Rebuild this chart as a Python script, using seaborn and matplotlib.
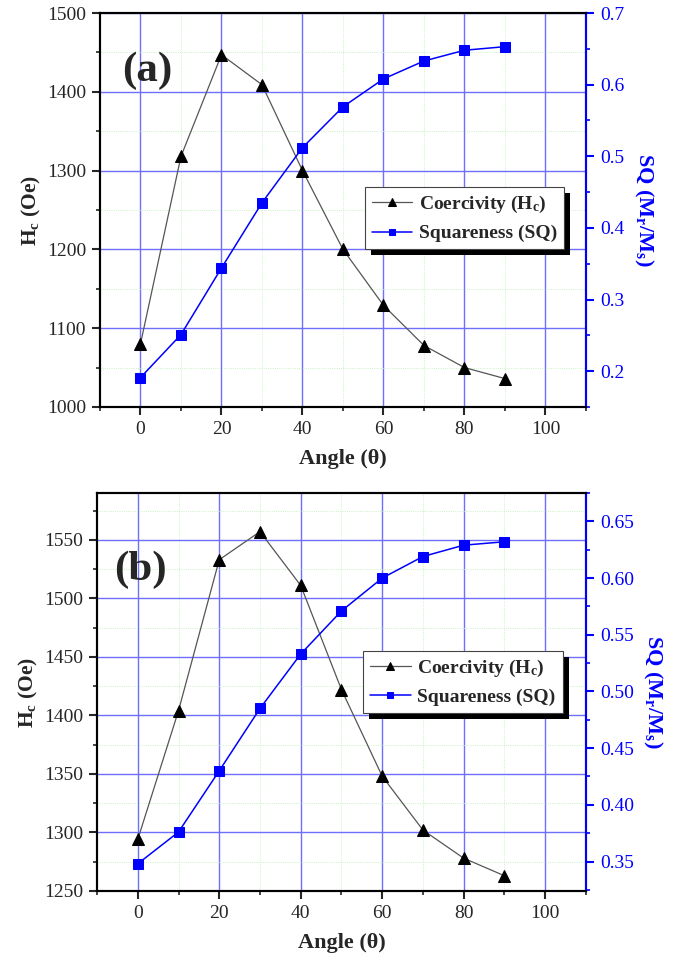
import matplotlib
matplotlib.use("Agg")
import matplotlib.pyplot as plt
from matplotlib.patches import Rectangle
from matplotlib.transforms import IdentityTransform
from matplotlib.ticker import MultipleLocator
import seaborn as sns

# angles (deg)
angle = [0, 10, 20, 30, 40, 50, 60, 70, 80, 90]

# panel (a)
hc_a = [1080, 1318, 1447, 1409, 1300, 1200, 1129, 1078, 1050, 1036]
sq_a = [0.191, 0.251, 0.344, 0.435, 0.512, 0.569, 0.608, 0.633, 0.648, 0.653]

# panel (b)
hc_b = [1294, 1404, 1533, 1557, 1511, 1422, 1348, 1302, 1278, 1263]
sq_b = [0.348, 0.376, 0.430, 0.485, 0.533, 0.571, 0.600, 0.619, 0.629, 0.632]

BLUE = "#0000ff"
GRID = "#6f6fff"

sns.set_style("ticks")
plt.rcParams["font.family"] = ["Liberation Serif", "DejaVu Serif"]
plt.rcParams["mathtext.fontset"] = "custom"
plt.rcParams["mathtext.rm"] = "Liberation Serif"
plt.rcParams["mathtext.bf"] = "Liberation Serif:bold"
plt.rcParams["mathtext.default"] = "bf"


def draw_panel(fig, rect, hc, sq, hc_lim, hc_major, hc_minor,
               sq_lim, sq_major, sq_minor, tag, tag_pos, leg_anchor):
    ax = fig.add_axes(rect)
    ax2 = ax.twinx()

    sns.lineplot(x=angle, y=hc, ax=ax, color="#555555", linewidth=0.9,
                 marker="^", markersize=8, markerfacecolor="black",
                 markeredgecolor="black", label="Coercivity (H$_c$)", legend=False)
    sns.lineplot(x=angle, y=sq, ax=ax2, color=BLUE, linewidth=1.1,
                 marker="s", markersize=7, markerfacecolor=BLUE,
                 markeredgecolor=BLUE, label="Squareness (SQ)", legend=False)

    ax.set_xlim(-10, 110)
    ax.xaxis.set_major_locator(MultipleLocator(20))
    ax.xaxis.set_minor_locator(MultipleLocator(10))
    ax.set_ylim(*hc_lim)
    ax.yaxis.set_major_locator(MultipleLocator(hc_major))
    ax.yaxis.set_minor_locator(MultipleLocator(hc_minor))
    ax2.set_ylim(*sq_lim)
    ax2.yaxis.set_major_locator(MultipleLocator(sq_major))
    ax2.yaxis.set_minor_locator(MultipleLocator(sq_minor))

    ax.grid(which="major", color=GRID, linewidth=1.0)
    ax.grid(which="minor", color="#b8f0b0", linewidth=0.6, linestyle=":")
    ax.set_axisbelow(True)

    for a in (ax, ax2):
        for s in a.spines.values():
            s.set_linewidth(1.5)
            s.set_color("black")
    ax2.spines["right"].set_color(BLUE)

    ax.tick_params(axis="both", which="major", direction="out", length=6,
                   width=1.5, labelsize=14, pad=4)
    ax.tick_params(axis="both", which="minor", direction="out", length=3,
                   width=1.2)
    ax2.tick_params(axis="y", which="major", direction="out", length=6,
                    width=1.5, labelsize=14, colors=BLUE, pad=4)
    ax2.tick_params(axis="y", which="minor", direction="out", length=3,
                    width=1.2, colors=BLUE)

    ax.set_xlabel("Angle (θ)", fontsize=16, fontweight="bold", labelpad=8)
    ax.set_ylabel("H$_c$ (Oe)", fontsize=15.5, fontweight="bold", labelpad=3)
    ax2.set_ylabel("SQ (M$_r$/M$_s$)", fontsize=16, fontweight="bold",
                   color=BLUE, rotation=-90, labelpad=22)

    ax.text(tag_pos[0], tag_pos[1], tag, transform=ax.transAxes, fontsize=31,
            fontweight="bold", ha="left", va="center")

    handles = ax.get_lines()[:1] + ax2.get_lines()[:1]
    leg = ax2.legend(handles, [h.get_label() for h in handles],
                     loc="upper left", bbox_to_anchor=leg_anchor,
                     borderaxespad=0, fancybox=False, framealpha=1,
                     edgecolor="#444444", prop={"weight": "bold", "size": 14},
                     handlelength=2.1, markerscale=0.7, labelspacing=0.5,
                     borderpad=0.35, handletextpad=0.35)
    leg.get_frame().set_linewidth(0.8)
    leg.set_zorder(10)
    return ax2, leg


fig = plt.figure(figsize=(6.88, 9.56), dpi=100)

legends = []
legends.append(draw_panel(fig, [0.1453, 0.5743, 0.7064, 0.4121], hc_a, sq_a,
                          (1000, 1500), 100, 50, (0.15, 0.7), 0.1, 0.05,
                          "(a)", (0.045, 0.853), (0.545, 0.558)))
legends.append(draw_panel(fig, [0.141, 0.068, 0.7107, 0.4163], hc_b, sq_b,
                          (1250, 1590), 50, 25, (0.324, 0.675), 0.05, 0.025,
                          "(b)", (0.035, 0.807), (0.544, 0.603)))

# solid black drop shadow behind each legend box
fig.canvas.draw()
for ax2, leg in legends:
    bb = leg.get_window_extent()
    ax2.add_patch(Rectangle((bb.x0 + 6, bb.y0 - 6), bb.width, bb.height,
                            transform=IdentityTransform(), facecolor="black",
                            edgecolor="none", zorder=9, clip_on=False))

fig.savefig("out.png", dpi=100)
